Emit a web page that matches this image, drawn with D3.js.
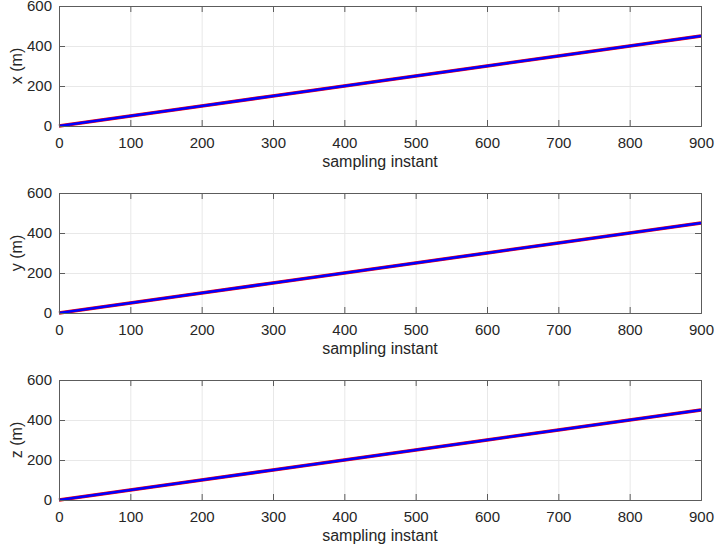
<!DOCTYPE html>
<html>
<head>
<meta charset="utf-8">
<script src="https://cdn.jsdelivr.net/npm/d3@7"></script>
<style>
  body { margin: 0; background: #fff; }
  text { font-family: "Liberation Sans", Arial, Helvetica, sans-serif; fill: #262626; }
</style>
</head>
<body>
<script>
// sampled positions, same trajectory for estimate (blue) and truth (red)
const instants = [0, 100, 200, 300, 400, 500, 600, 700, 800, 900];
const xPos = [0, 50, 100, 150, 200, 250, 300, 350, 400, 450];
const yPos = [0, 50, 100, 150, 200, 250, 300, 350, 400, 450];
const zPos = [0, 50, 100, 150, 200, 250, 300, 350, 400, 450];
const xTicks = [0, 100, 200, 300, 400, 500, 600, 700, 800, 900];
const yTicks = [0, 200, 400, 600];
const panelLabels = ["x (m)", "y (m)", "z (m)"];

const width = 719, height = 549;
const left = 59, right = 701;
const panelTops = [6, 193, 380];
const panelH = 120;

const svg = d3.select("body").append("svg")
  .attr("width", width)
  .attr("height", height);

const x_scale = d3.scaleLinear().domain([0, 900]).range([left, right]);

[xPos, yPos, zPos].forEach(function(vals, i) {
  const top = panelTops[i];
  const y_scale = d3.scaleLinear().domain([0, 600]).range([top + panelH, top]);
  const g = svg.append("g");

  // gridlines
  g.append("g")
    .attr("transform", "translate(0," + (top + panelH) + ")")
    .call(d3.axisBottom(x_scale).tickValues(xTicks).tickSize(-panelH).tickFormat(""))
    .call(s => s.select(".domain").remove())
    .call(s => s.selectAll("line").attr("stroke", "#e8e8e8"));
  g.append("g")
    .attr("transform", "translate(" + left + ",0)")
    .call(d3.axisLeft(y_scale).tickValues(yTicks).tickSize(-(right - left)).tickFormat(""))
    .call(s => s.select(".domain").remove())
    .call(s => s.selectAll("line").attr("stroke", "#e8e8e8"));

  // data lines
  const pts = instants.map((t, j) => [t, vals[j]]);
  const line = d3.line()
    .x(d => x_scale(d[0]))
    .y(d => y_scale(d[1]));
  g.append("path").datum(pts)
    .attr("fill", "none").attr("stroke", "#ff0000").attr("stroke-width", 3.6)
    .attr("d", line);
  g.append("path").datum(pts)
    .attr("fill", "none").attr("stroke", "#0000ff").attr("stroke-width", 2.6)
    .attr("d", line);

  // axes with inward ticks (box on)
  const axisColor = "#5c5c5c";
  const bottom = g.append("g")
    .attr("transform", "translate(0," + (top + panelH) + ")")
    .call(d3.axisBottom(x_scale).tickValues(xTicks).tickSize(-6).tickPadding(11));
  const leftAx = g.append("g")
    .attr("transform", "translate(" + left + ",0)")
    .call(d3.axisLeft(y_scale).tickValues(yTicks).tickSize(-6).tickPadding(7));
  const topAx = g.append("g")
    .attr("transform", "translate(0," + top + ")")
    .call(d3.axisTop(x_scale).tickValues(xTicks).tickSize(-6).tickFormat(""));
  const rightAx = g.append("g")
    .attr("transform", "translate(" + right + ",0)")
    .call(d3.axisRight(y_scale).tickValues(yTicks).tickSize(-6).tickFormat(""));
  [bottom, leftAx, topAx, rightAx].forEach(a => {
    a.select(".domain").attr("stroke", axisColor).attr("stroke-width", 1);
    a.selectAll(".tick line").attr("stroke", axisColor);
    a.selectAll("text").style("font-size", "15px").attr("fill", "#262626");
  });

  // labels
  g.append("text")
    .attr("x", (left + right) / 2)
    .attr("y", top + panelH + 41)
    .attr("text-anchor", "middle")
    .style("font-size", "16px")
    .text("sampling instant");
  g.append("text")
    .attr("transform", "translate(22," + (top + panelH / 2) + ") rotate(-90)")
    .attr("text-anchor", "middle")
    .style("font-size", "16px")
    .text(panelLabels[i]);
});
</script>
</body>
</html>
